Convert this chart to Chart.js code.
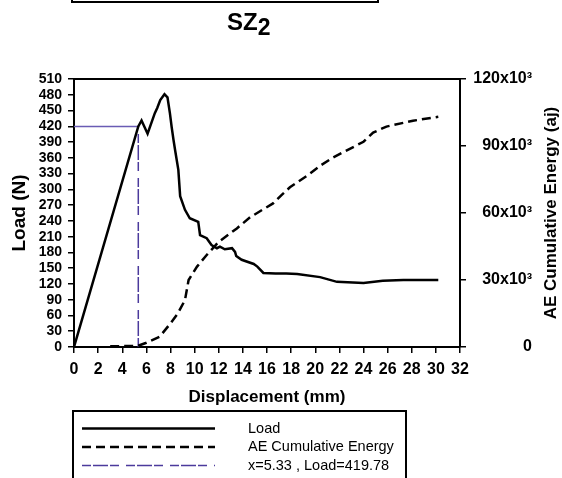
<!DOCTYPE html>
<html>
<head>
<meta charset="utf-8">
<script src="https://cdn.jsdelivr.net/npm/chart.js@4.4.0/dist/chart.umd.min.js"></script>
<style>
  html, body { margin: 0; padding: 0; background: #fff; }
  canvas { display: block; }
</style>
</head>
<body>
<canvas id="sz2" width="562" height="478"></canvas>
<script>
// load vs displacement (N, mm)
var loadX = [0, 5.33, 5.6, 6.1, 6.7, 6.9, 7.15, 7.5, 7.75, 7.95, 8.1, 8.25, 8.4, 8.65, 8.8, 9.2, 9.6, 10.3, 10.45, 11.0, 11.4, 11.85, 12.1, 12.5, 13.1, 13.35, 13.45, 13.9, 14.9, 15.2, 15.7, 16.7, 17.6, 18.5, 20.4, 21.8, 24.0, 25.6, 27.3, 30.2];
var loadY = [0, 419.78, 431, 406, 445, 455, 470, 481, 475, 445, 418, 394, 372, 337, 287, 261, 245, 238, 213, 207, 194, 188, 191, 186, 188, 181, 173, 166, 158, 153, 141, 140, 140, 139, 133, 124, 122, 126, 127.5, 127.5];

// AE cumulative energy (aj)
var energyX = [3.0, 5.3, 6.0, 7.1, 8.0, 8.6, 9.2, 9.5, 10.2, 11.0, 12.0, 13.5, 14.6, 16.5, 17.2, 17.9, 19.4, 20.5, 21.5, 24.0, 24.8, 25.9, 28.1, 30.2];
var energyY = [300, 500, 1900, 4600, 10600, 15000, 21000, 30000, 36000, 41200, 47100, 53100, 58100, 64300, 68000, 71500, 77000, 81500, 84900, 91900, 96000, 98700, 101300, 103100];

// marker at the first load drop
var refX = 5.33;
var refLoad = 419.78;

var loadTicks = { min: 0, max: 510, step: 30 };
var energyTicks = { min: 0, max: 120000, step: 30000 };
var dispTicks = { min: 0, max: 32, step: 2 };

var FONT = 'Arial, "Liberation Sans", sans-serif';
Chart.defaults.font.family = FONT;
Chart.defaults.color = '#000';

function pts(xs, ys) {
  return xs.map(function (x, i) { return { x: x, y: ys[i] }; });
}

var refColor = '#4b3a9c';
var refDash = [9, 2, 15, 2, 9, 7];

var datasets = [
  { label: 'Load', data: pts(loadX, loadY), yAxisID: 'y',
    borderColor: '#000', borderWidth: 2.5, pointRadius: 0, tension: 0 },
  { label: 'AE Cumulative Energy', data: pts(energyX, energyY), yAxisID: 'y2',
    borderColor: '#000', borderWidth: 2.5, borderDash: [9, 5], pointRadius: 0, tension: 0 },
  { label: 'x=' + refX + ' , Load=' + refLoad, data: [{ x: refX, y: 0 }, { x: refX, y: refLoad }], yAxisID: 'y',
    borderColor: refColor, borderWidth: 1.5, borderDash: refDash, pointRadius: 0 },
  { label: '', data: [{ x: 0, y: refLoad }, { x: refX, y: refLoad }], yAxisID: 'y',
    borderColor: '#6a5cb4', borderWidth: 1.5, pointRadius: 0, inLegend: false }
];

// title, frame top, right axis title and the boxed legend
var decor = {
  id: 'decor',
  afterDraw: function (chart) {
    var c = chart.ctx, a = chart.chartArea;
    c.save();
    c.strokeStyle = '#000';
    c.lineWidth = 2;
    c.strokeRect(72, -10, 306, 12);

    c.beginPath();
    c.moveTo(a.left - 1, a.top);
    c.lineTo(a.right + 1, a.top);
    c.stroke();

    c.fillStyle = '#000';
    c.textBaseline = 'alphabetic';
    c.textAlign = 'left';
    c.font = 'bold 24px ' + FONT;
    c.fillText('SZ', 227, 30);
    var w = c.measureText('SZ').width;
    c.font = 'bold 23px ' + FONT;
    c.fillText('2', 227 + w, 35);

    c.save();
    c.translate(551, 213);
    c.rotate(-Math.PI / 2);
    c.textAlign = 'center';
    c.textBaseline = 'middle';
    c.font = 'bold 17px ' + FONT;
    c.fillText('AE Cumulative Energy (aj)', 0, 0);
    c.restore();

    c.lineWidth = 2;
    c.strokeRect(73, 411, 333, 90);
    c.font = '14.5px ' + FONT;
    c.textBaseline = 'middle';
    var row = 0;
    chart.data.datasets.forEach(function (ds) {
      if (ds.inLegend === false) return;
      var y = 428.5 + row * 18.5;
      c.beginPath();
      c.strokeStyle = ds.borderColor;
      c.lineWidth = ds.borderWidth;
      c.setLineDash(ds.borderDash || []);
      c.moveTo(82, y);
      c.lineTo(215, y);
      c.stroke();
      c.setLineDash([]);
      c.fillStyle = '#000';
      c.fillText(ds.label, 248, y);
      row++;
    });
    c.restore();
  }
};

var axisGrid = { drawOnChartArea: false, tickLength: 6, color: '#000', lineWidth: 1.5 };
var axisBorder = { display: true, color: '#000', width: 2 };

new Chart(document.getElementById('sz2').getContext('2d'), {
  type: 'line',
  data: { datasets: datasets },
  options: {
    responsive: false,
    animation: false,
    layout: { padding: { top: 79, left: 0, right: 30, bottom: 0 } },
    plugins: { legend: { display: false }, tooltip: { enabled: false } },
    scales: {
      x: {
        type: 'linear', position: 'bottom',
        min: dispTicks.min, max: dispTicks.max,
        ticks: { stepSize: dispTicks.step, autoSkip: false, maxRotation: 0, padding: 7,
          font: { size: 16, weight: 'bold' } },
        grid: axisGrid, border: axisBorder,
        title: { display: true, text: 'Displacement (mm)', padding: { top: 4, bottom: 70 },
          font: { size: 17, weight: 'bold' } },
        afterFit: function (s) { s.height = 131; }
      },
      y: {
        position: 'left',
        min: loadTicks.min, max: loadTicks.max,
        ticks: { stepSize: loadTicks.step, autoSkip: false, padding: 6,
          font: { size: 14, weight: 'bold' } },
        grid: axisGrid, border: axisBorder,
        title: { display: true, text: 'Load (N)', padding: { top: 8, bottom: 4 },
          font: { size: 19, weight: 'bold' } },
        afterFit: function (s) { s.width = 74; }
      },
      y2: {
        position: 'right',
        min: energyTicks.min, max: energyTicks.max,
        ticks: { stepSize: energyTicks.step, autoSkip: false, padding: 6, crossAlign: 'far',
          font: { size: 16, weight: 'bold' },
          callback: function (v) { return v === 0 ? '0' : (v / 1000) + 'x10\u00b3'; } },
        grid: axisGrid, border: axisBorder,
        afterFit: function (s) { s.width = 72; }
      }
    }
  },
  plugins: [decor]
});
</script>
</body>
</html>
